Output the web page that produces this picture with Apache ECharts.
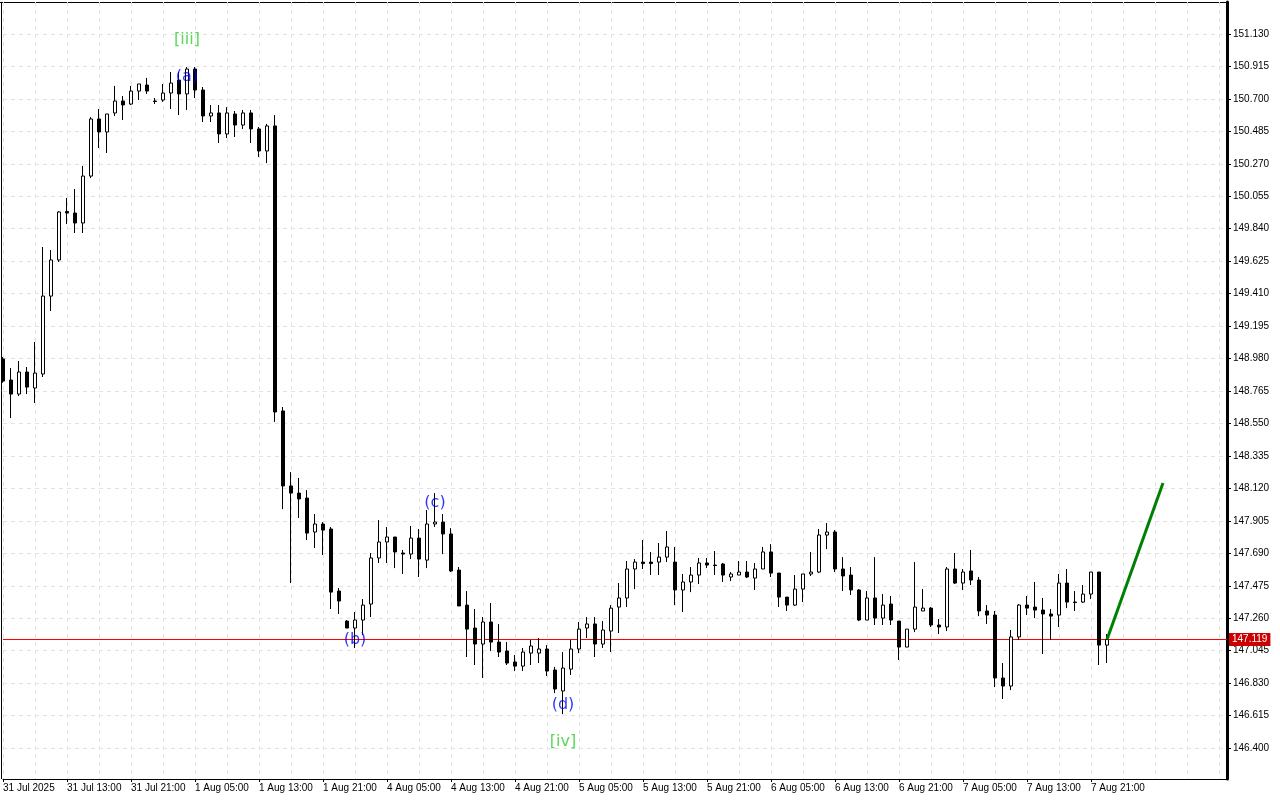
<!DOCTYPE html>
<html>
<head>
<meta charset="utf-8">
<script src="https://cdn.jsdelivr.net/npm/echarts@6/dist/echarts.min.js"></script>
<style>html,body{margin:0;padding:0;background:#fff;}#c{width:1280px;height:800px;}</style>
</head>
<body>
<div id="c"></div>
<script>
// Hourly candles, 31 Jul 2025 05:00 .. 7 Aug 2025 22:00
const opens = [148.977,148.838,148.745,148.891,148.785,148.878,149.394,149.633,149.954,149.944,
149.878,150.189,150.567,150.481,150.607,150.686,150.666,150.752,150.792,150.686,
150.693,150.739,150.825,150.733,150.898,150.759,150.587,150.607,150.468,150.600,
150.527,150.607,150.501,150.355,150.521,148.633,148.136,148.089,148.056,147.831,
147.884,147.851,147.440,147.241,147.195,147.248,147.354,147.659,147.765,147.798,
147.692,147.685,147.791,147.645,147.884,147.897,147.818,147.579,147.347,147.195,
147.089,147.235,147.102,147.043,146.970,146.943,147.029,147.029,147.056,146.917,
146.778,146.923,147.056,147.195,147.222,147.089,147.175,147.334,147.394,147.586,
147.632,147.632,147.632,147.665,147.632,147.447,147.500,147.546,147.626,147.612,
147.619,147.533,147.546,147.566,147.526,147.586,147.699,147.559,147.400,147.347,
147.453,147.553,147.566,147.811,147.831,147.586,147.546,147.447,147.248,147.394,
147.261,147.354,147.241,147.069,147.188,147.308,147.327,147.215,147.202,147.586,
147.493,147.573,147.513,147.308,147.281,146.864,146.811,147.136,147.347,147.334,
147.314,147.288,147.281,147.493,147.367,147.367,147.420,147.566,147.082];
const highs = [148.990,148.917,148.964,148.924,149.090,149.719,149.699,149.957,150.044,150.103,
150.256,150.580,150.633,150.600,150.786,150.719,150.786,150.799,150.839,150.706,
150.799,150.878,150.878,150.911,150.911,150.779,150.660,150.660,150.646,150.620,
150.627,150.627,150.514,150.534,150.593,148.659,148.228,148.189,148.109,147.950,
147.897,147.864,147.460,147.248,147.301,147.387,147.692,147.910,147.864,147.798,
147.712,147.871,147.851,147.977,148.089,147.950,147.857,147.599,147.440,147.321,
147.268,147.361,147.221,147.102,147.016,147.063,147.116,147.129,147.082,146.937,
147.036,147.116,147.235,147.268,147.268,147.241,147.347,147.493,147.639,147.652,
147.778,147.699,147.758,147.838,147.732,147.553,147.599,147.659,147.659,147.705,
147.626,147.566,147.639,147.639,147.626,147.732,147.751,147.559,147.400,147.546,
147.553,147.699,147.851,147.891,147.844,147.665,147.599,147.453,147.440,147.665,
147.420,147.407,147.241,147.188,147.632,147.453,147.334,147.255,147.599,147.692,
147.586,147.712,147.533,147.347,147.308,146.963,147.182,147.354,147.407,147.500,
147.394,147.321,147.553,147.586,147.440,147.480,147.566,147.566,147.155];
const lows = [148.820,148.586,148.732,148.745,148.686,148.858,149.295,149.620,149.871,149.812,
149.812,150.176,150.375,150.342,150.587,150.560,150.660,150.693,150.733,150.666,
150.680,150.633,150.593,150.627,150.706,150.547,150.547,150.408,150.441,150.448,
150.501,150.408,150.315,150.275,148.560,147.983,147.493,147.924,147.778,147.725,
147.679,147.321,147.288,147.195,147.063,147.149,147.268,147.626,147.626,147.592,
147.553,147.652,147.533,147.592,147.864,147.685,147.566,147.341,147.003,146.950,
146.864,147.043,147.003,146.950,146.910,146.910,146.950,146.963,146.877,146.764,
146.625,146.884,147.029,147.129,147.003,147.063,147.036,147.162,147.334,147.453,
147.586,147.546,147.546,147.632,147.347,147.301,147.433,147.487,147.592,147.546,
147.500,147.506,147.546,147.526,147.447,147.586,147.533,147.334,147.308,147.341,
147.367,147.540,147.559,147.718,147.566,147.440,147.414,147.241,147.248,147.215,
147.215,147.215,146.983,147.069,147.168,147.308,147.202,147.155,147.175,147.487,
147.447,147.480,147.274,147.222,146.804,146.725,146.784,147.116,147.281,147.261,
147.023,147.116,147.202,147.327,147.308,147.361,147.387,146.950,146.963];
const closes = [148.831,148.745,148.891,148.791,148.884,149.394,149.633,149.951,149.944,149.878,
150.189,150.567,150.481,150.600,150.686,150.660,150.752,150.799,150.752,150.683,
150.739,150.805,150.733,150.898,150.759,150.587,150.607,150.468,150.607,150.527,
150.607,150.501,150.355,150.521,148.626,148.136,148.089,148.050,147.824,147.884,
147.844,147.433,147.374,147.195,147.248,147.347,147.659,147.765,147.798,147.699,
147.685,147.791,147.652,147.884,147.897,147.818,147.573,147.341,147.188,147.089,
147.235,147.102,147.036,146.963,146.943,147.036,147.076,147.056,146.910,146.791,
146.930,147.056,147.188,147.222,147.089,147.182,147.327,147.394,147.586,147.632,
147.622,147.622,147.665,147.732,147.447,147.500,147.546,147.626,147.612,147.609,
147.546,147.553,147.566,147.533,147.586,147.699,147.559,147.400,147.347,147.453,
147.553,147.566,147.811,147.831,147.586,147.540,147.447,147.248,147.394,147.261,
147.347,147.248,147.069,147.188,147.334,147.327,147.215,147.202,147.586,147.493,
147.566,147.513,147.308,147.281,146.864,146.811,147.136,147.347,147.327,147.314,
147.288,147.274,147.493,147.367,147.364,147.420,147.566,147.082,147.119];

const slotCount = 154;            // hourly slots on the time axis (incl. empty future space)
const timeLabels = ['31 Jul 2025','31 Jul 13:00','31 Jul 21:00','1 Aug 05:00','1 Aug 13:00','1 Aug 21:00',
'4 Aug 05:00','4 Aug 13:00','4 Aug 21:00','5 Aug 05:00','5 Aug 13:00','5 Aug 21:00',
'6 Aug 05:00','6 Aug 13:00','6 Aug 21:00','7 Aug 05:00','7 Aug 13:00','7 Aug 21:00'];
const labelStep = 8;
const priceTicks = [146.400,146.615,146.830,147.045,147.260,147.475,147.690,147.905,148.120,148.335,148.550,
148.765,148.980,149.195,149.410,149.625,149.840,150.055,150.270,150.485,150.700,150.915,151.130];

const waveText   = ['[iii]','(a)','(b)','(c)','(d)','[iv]'];
const waveX      = [23, 23, 44, 54, 70, 70];
const waveY      = [151.090, 150.848, 147.116, 148.023, 146.683, 146.440];
const waveColor  = ['#32cd32','#0000ff','#0000ff','#0000ff','#0000ff','#32cd32'];

const forecastX = [138, 145];
const forecastY = [147.119, 148.155];

const categories = Array.from({length: slotCount}, (_, i) => String(i));
const candleData = opens.map((o, i) => [o, closes[i], lows[i], highs[i]]);
const lastClose = closes[closes.length - 1];

const chart = echarts.init(document.getElementById('c'), null, {renderer: 'canvas'});
chart.setOption({
  animation: false,
  backgroundColor: '#ffffff',
  grid: {left: 3, top: 2, width: 1224, height: 777, containLabel: false},
  xAxis: {
    type: 'category',
    data: categories,
    boundaryGap: false,
    axisLine: {show: true, lineStyle: {color: '#000', width: 1}},
    axisTick: {show: true, length: 3, interval: (i) => i % labelStep === 0 && i / labelStep < timeLabels.length, lineStyle: {color: '#000'}},
    axisLabel: {
      show: true, align: 'left', margin: 4, fontSize: 10, color: '#000', fontFamily: 'Liberation Sans',
      interval: (i) => i % labelStep === 0 && i / labelStep < timeLabels.length,
      formatter: (v, i) => timeLabels[i / labelStep] || ''
    },
    splitLine: {show: true, interval: (i) => i % 4 === 0, lineStyle: {color: '#e3e3e3', type: [4, 4], width: 1}}
  },
  yAxis: {
    type: 'value',
    position: 'right',
    min: 146.195, max: 151.342,
    axisLine: {show: true, lineStyle: {color: '#000', width: 3}},
    axisTick: {show: true, length: 4, customValues: priceTicks, lineStyle: {color: '#000'}},
    axisLabel: {show: true, customValues: priceTicks, margin: 6, fontSize: 10, color: '#000', fontFamily: 'Liberation Sans',
      formatter: (v) => v.toFixed(3)},
    splitLine: {show: true, lineStyle: {color: '#e3e3e3', type: [4, 4], width: 1}}
  },
  graphic: [
    {type: 'line', shape: {x1: 0, y1: 2.5, x2: 1227, y2: 2.5}, style: {stroke: '#000', lineWidth: 1}, silent: true},
    {type: 'line', shape: {x1: 1.5, y1: 2, x2: 1.5, y2: 779}, style: {stroke: '#000', lineWidth: 1}, silent: true}
  ],
  series: [
    {
      type: 'line',
      data: [[0, lastClose], [slotCount - 1, lastClose]],
      symbol: 'none',
      color: '#ff0000',
      lineStyle: {color: '#ff0000', width: 1},
      z: 1,
      endLabel: {show: true, distance: 2, formatter: () => lastClose.toFixed(3),
        backgroundColor: '#cc0000', color: '#ffffff', fontSize: 10, fontFamily: 'Liberation Sans', padding: [2, 3, 1, 3]}
    },
    {
      type: 'candlestick',
      data: candleData,
      barWidth: 4,
      z: 2,
      itemStyle: {color: '#ffffff', color0: '#000000', borderColor: '#000000', borderColor0: '#000000', borderWidth: 1}
    },
    {
      type: 'line',
      data: forecastX.map((x, i) => [x, forecastY[i]]),
      symbol: 'none',
      color: '#008000',
      lineStyle: {color: '#008000', width: 3},
      z: 5
    },
    {
      type: 'scatter',
      symbolSize: 0,
      z: 6,
      data: waveText.map((t, i) => ({value: [waveX[i], waveY[i]], name: t,
        label: {show: true, position: 'inside', formatter: t, color: waveColor[i], fontSize: 16, fontFamily: 'DejaVu Sans'}}))
    }
  ]
});
</script>
</body>
</html>
